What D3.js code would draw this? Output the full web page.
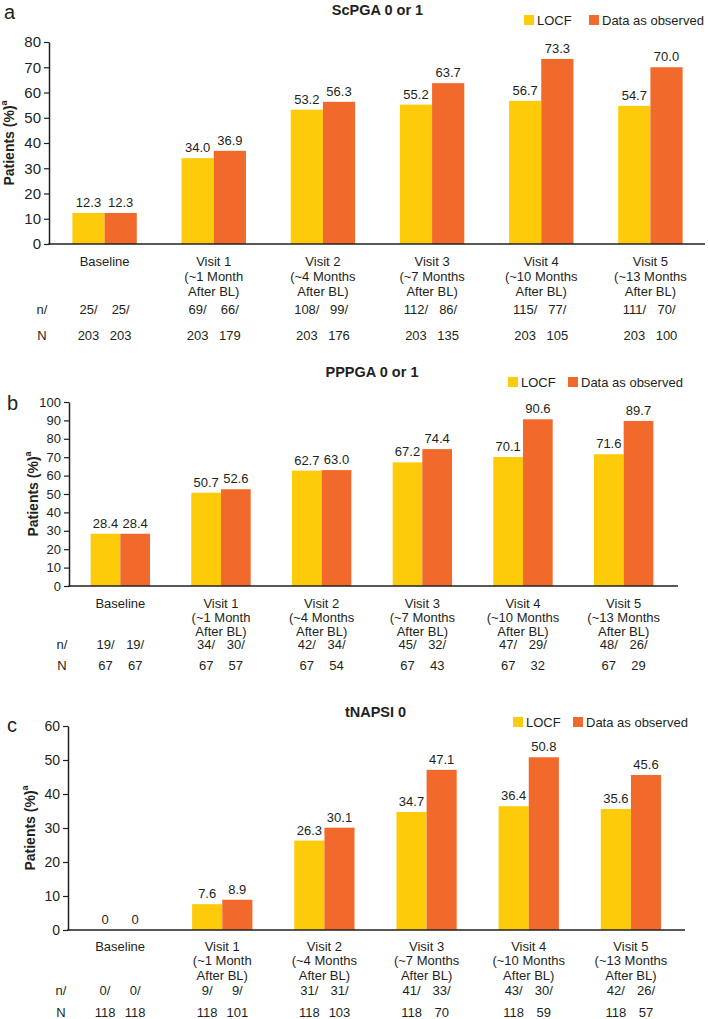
<!DOCTYPE html>
<html>
<head>
<meta charset="utf-8">
<script src="https://cdn.jsdelivr.net/npm/d3@7"></script>
<style>
  body { margin: 0; background: #fff; }
  svg text { font-family: "Liberation Sans", Arial, sans-serif; fill: #231f20; }
</style>
</head>
<body>
<div id="chart"></div>
<script>
// categories (each split into lines)
var categories = [
    ["Baseline"],
    ["Visit 1", "(~1 Month", "After BL)"],
    ["Visit 2", "(~4 Months", "After BL)"],
    ["Visit 3", "(~7 Months", "After BL)"],
    ["Visit 4", "(~10 Months", "After BL)"],
    ["Visit 5", "(~13 Months", "After BL)"]
];
var seriesNames = ["LOCF", "Data as observed"];
var seriesColors = ["#fecb0a", "#f26a2b"];

// ScPGA 0 or 1
var scpgaLocf = [12.3, 34.0, 53.2, 55.2, 56.7, 54.7];
var scpgaObs = [12.3, 36.9, 56.3, 63.7, 73.3, 70.0];
var scpgaNLocf = [25, 69, 108, 112, 115, 111];
var scpgaNObs = [25, 66, 99, 86, 77, 70];
var scpgaTotLocf = [203, 203, 203, 203, 203, 203];
var scpgaTotObs = [203, 179, 176, 135, 105, 100];
var scpgaTicks = [0, 10, 20, 30, 40, 50, 60, 70, 80];

// PPPGA 0 or 1
var pppgaLocf = [28.4, 50.7, 62.7, 67.2, 70.1, 71.6];
var pppgaObs = [28.4, 52.6, 63.0, 74.4, 90.6, 89.7];
var pppgaNLocf = [19, 34, 42, 45, 47, 48];
var pppgaNObs = [19, 30, 34, 32, 29, 26];
var pppgaTotLocf = [67, 67, 67, 67, 67, 67];
var pppgaTotObs = [67, 57, 54, 43, 32, 29];
var pppgaTicks = [0, 10, 20, 30, 40, 50, 60, 70, 80, 90, 100];

// tNAPSI 0
var napsiLocf = [0, 7.6, 26.3, 34.7, 36.4, 35.6];
var napsiObs = [0, 8.9, 30.1, 47.1, 50.8, 45.6];
var napsiNLocf = [0, 9, 31, 41, 43, 42];
var napsiNObs = [0, 9, 31, 33, 30, 26];
var napsiTotLocf = [118, 118, 118, 118, 118, 118];
var napsiTotObs = [118, 101, 103, 70, 59, 57];
var napsiTicks = [0, 10, 20, 30, 40, 50, 60];

var svg = d3.select("#chart").append("svg")
    .attr("width", 708)
    .attr("height", 1019);

var panels = [
    {letter: "a", title: "ScPGA 0 or 1", locf: scpgaLocf, obs: scpgaObs,
     nL: scpgaNLocf, nO: scpgaNObs, tL: scpgaTotLocf, tO: scpgaTotObs, ticks: scpgaTicks,
     x0: 50, x1: 705, axisEnd: 705, yTop: 42, yBot: 244, tickFont: 15,
     titleY: 10, legendY: 20, legendX: 524, legendX2: 589, letterX: 4, letterY: 12, yTitleX: 9,
     rows: [17, 32, 47, 65, 91]},
    {letter: "b", title: "PPPGA 0 or 1", locf: pppgaLocf, obs: pppgaObs,
     nL: pppgaNLocf, nO: pppgaNObs, tL: pppgaTotLocf, tO: pppgaTotObs, ticks: pppgaTicks,
     x0: 70, x1: 674, axisEnd: 678, yTop: 402, yBot: 586, tickFont: 13,
     titleY: 372, legendY: 382, legendX: 508, legendX2: 568, letterX: 7, letterY: 403, yTitleX: 33,
     rows: [17, 31, 45, 58, 79]},
    {letter: "c", title: "tNAPSI 0", locf: napsiLocf, obs: napsiObs,
     nL: napsiNLocf, nO: napsiNObs, tL: napsiTotLocf, tO: napsiTotObs, ticks: napsiTicks,
     x0: 69, x1: 682, axisEnd: 685, yTop: 726, yBot: 930, tickFont: 14,
     titleY: 712, legendY: 722, legendX: 513, legendX2: 573, letterX: 7, letterY: 725, yTitleX: 30,
     rows: [16, 30, 45, 60, 82]}
];

panels.forEach(drawPanel);

function drawPanel(p) {
    var g = svg.append("g");

    var x = d3.scaleBand()
        .domain(d3.range(categories.length))
        .range([p.x0, p.x1])
        .paddingInner(0.41)
        .paddingOuter(0.205);
    var xs = d3.scaleBand()
        .domain([0, 1])
        .range([0, x.bandwidth()]);
    var y = d3.scaleLinear()
        .domain([0, d3.max(p.ticks)])
        .range([p.yBot, p.yTop]);

    var rows = p.locf.map(function(v, i) {
        return [
            {i: i, s: 0, v: v, n: p.nL[i], t: p.tL[i]},
            {i: i, s: 1, v: p.obs[i], n: p.nO[i], t: p.tO[i]}
        ];
    });
    var flat = [].concat.apply([], rows);

    // bars
    g.selectAll("rect.bar")
        .data(flat)
        .enter()
        .append("rect")
            .attr("class", "bar")
            .attr("x", function(d) { return x(d.i) + xs(d.s); })
            .attr("width", xs.bandwidth())
            .attr("y", function(d) { return y(d.v); })
            .attr("height", function(d) { return p.yBot - y(d.v); })
            .attr("fill", function(d) { return seriesColors[d.s]; });

    // value labels
    g.selectAll("text.val")
        .data(flat)
        .enter()
        .append("text")
            .attr("x", function(d) { return x(d.i) + xs(d.s) + xs.bandwidth() / 2; })
            .attr("y", function(d) { return y(d.v) - 6; })
            .attr("text-anchor", "middle")
            .attr("font-size", 13)
            .text(function(d) { return d.v === 0 ? "0" : d.v.toFixed(1); });

    // y axis
    var yAxis = g.append("g")
        .attr("transform", "translate(" + (p.x0 - 1) + ",0)")
        .call(d3.axisLeft(y).tickValues(p.ticks).tickSize(5).tickPadding(3).tickSizeOuter(0));
    yAxis.select(".domain").attr("stroke", "#231f20").attr("stroke-width", 1.5);
    yAxis.selectAll(".tick line").attr("stroke", "#231f20").attr("stroke-width", 1.2);
    yAxis.selectAll(".tick text")
        .attr("font-size", p.tickFont)
        .attr("font-family", "Liberation Sans, Arial, sans-serif")
        .attr("fill", "#231f20");

    // x axis line
    g.append("line")
        .attr("x1", p.x0 - 1.75).attr("x2", p.axisEnd)
        .attr("y1", p.yBot).attr("y2", p.yBot)
        .attr("stroke", "#231f20").attr("stroke-width", 1.5);

    // category labels
    categories.forEach(function(lines, i) {
        lines.forEach(function(line, k) {
            g.append("text")
                .attr("x", x(i) + x.bandwidth() / 2)
                .attr("y", p.yBot + p.rows[k])
                .attr("dominant-baseline", "central")
                .attr("text-anchor", "middle")
                .attr("font-size", 13)
                .text(line);
        });
    });

    // n/ and N rows
    g.append("text")
        .attr("x", p.x0 - 8).attr("y", p.yBot + p.rows[3])
        .attr("dominant-baseline", "central").attr("text-anchor", "middle")
        .attr("font-size", 13).text("n/");
    g.append("text")
        .attr("x", p.x0 - 8).attr("y", p.yBot + p.rows[4])
        .attr("dominant-baseline", "central").attr("text-anchor", "middle")
        .attr("font-size", 13).text("N");
    g.selectAll("text.nrow")
        .data(flat)
        .enter()
        .append("text")
            .attr("x", function(d) { return x(d.i) + xs(d.s) + xs.bandwidth() / 2; })
            .attr("y", p.yBot + p.rows[3])
            .attr("dominant-baseline", "central")
            .attr("text-anchor", "middle")
            .attr("font-size", 13)
            .text(function(d) { return d.n + "/"; });
    g.selectAll("text.trow")
        .data(flat)
        .enter()
        .append("text")
            .attr("x", function(d) { return x(d.i) + xs(d.s) + xs.bandwidth() / 2; })
            .attr("y", p.yBot + p.rows[4])
            .attr("dominant-baseline", "central")
            .attr("text-anchor", "middle")
            .attr("font-size", 13)
            .text(function(d) { return d.t; });

    // title
    g.append("text")
        .attr("x", (p.x0 + p.x1) / 2).attr("y", p.titleY)
        .attr("dominant-baseline", "central").attr("text-anchor", "middle")
        .attr("font-size", 14.5).attr("font-weight", "bold")
        .text(p.title);

    // panel letter
    g.append("text")
        .attr("x", p.letterX).attr("y", p.letterY)
        .attr("dominant-baseline", "central")
        .attr("font-size", 20)
        .text(p.letter);

    // y title
    var yt = g.append("text")
        .attr("transform", "translate(" + p.yTitleX + "," + ((p.yTop + p.yBot) / 2) + ") rotate(-90)")
        .attr("dominant-baseline", "central").attr("text-anchor", "middle")
        .attr("font-size", 14).attr("font-weight", "bold");
    yt.append("tspan").text("Patients (%)");
    yt.append("tspan").attr("font-size", 9).attr("dy", -5).text("a");

    // legend
    var lx = [p.legendX, p.legendX2];
    seriesNames.forEach(function(name, s) {
        g.append("rect")
            .attr("x", lx[s]).attr("y", p.legendY - 5)
            .attr("width", 10).attr("height", 10)
            .attr("fill", seriesColors[s]);
        g.append("text")
            .attr("x", lx[s] + 13).attr("y", p.legendY)
            .attr("dominant-baseline", "central")
            .attr("font-size", 13)
            .text(name);
    });
}
</script>
</body>
</html>
